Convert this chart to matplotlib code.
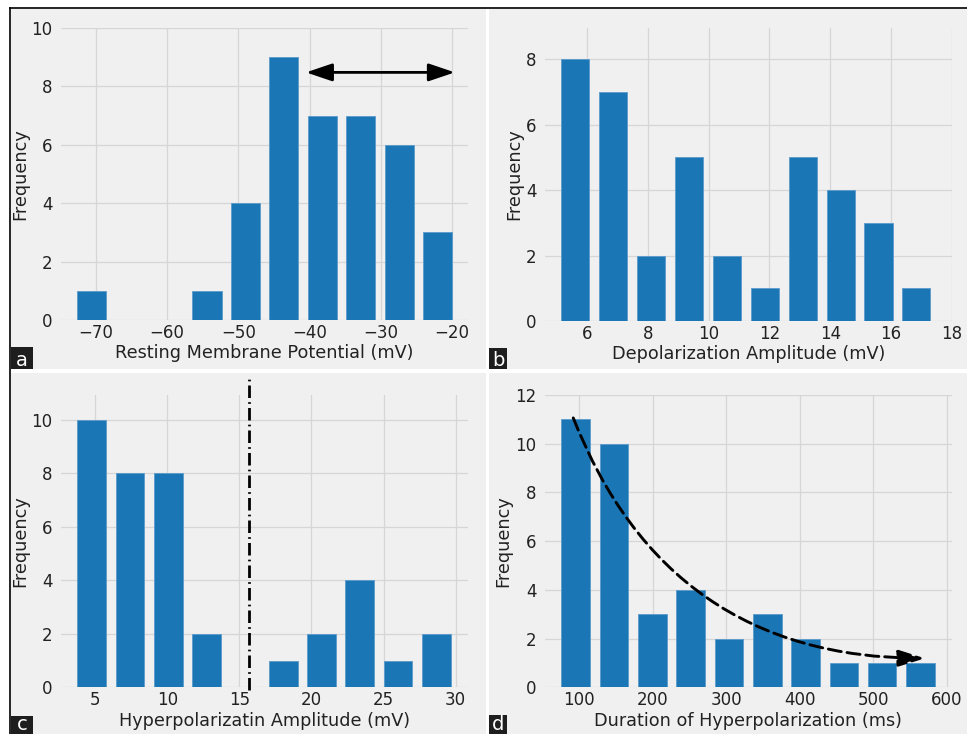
import matplotlib
matplotlib.use("Agg")
import matplotlib.pyplot as plt
from matplotlib.patches import Rectangle
from matplotlib.lines import Line2D

W, H = 967, 734

# ── data (histogram bins) ─────────────────────────────────────────────────────

rmp_bins   = [-70.6, -65.2, -59.8, -54.4, -49.0, -43.6, -38.2, -32.8, -27.4, -22.0]
rmp_counts = [1, 0, 0, 1, 4, 9, 7, 7, 6, 3]

dep_bins   = [5.61, 6.86, 8.10, 9.35, 10.60, 11.85, 13.09, 14.34, 15.59, 16.84]
dep_counts = [8, 7, 2, 5, 2, 1, 5, 4, 3, 1]

hyp_bins   = [4.77, 7.42, 10.08, 12.73, 15.39, 18.04, 20.70, 23.35, 26.00, 28.66]
hyp_counts = [10, 8, 8, 2, 0, 1, 2, 4, 1, 2]

dur_bins   = [95.6, 147.7, 199.8, 251.9, 304.0, 356.0, 408.1, 460.2, 512.3, 564.4]
dur_counts = [11, 10, 3, 4, 2, 3, 2, 1, 1, 1]

BG   = '#f0f0f0'
BAR  = '#1a76b4'
GRID = '#d6d6d6'
TXT  = '#222222'

plt.rcParams['font.family'] = 'DejaVu Sans'
plt.rcParams['font.size'] = 12

fig = plt.figure(figsize=(W / 100, H / 100), dpi=100)
fig.patch.set_facecolor('white')


def px(x0, y0, x1, y1):
    # pixel box (y down) -> figure fraction [left, bottom, width, height]
    return [x0 / W, 1 - y1 / H, (x1 - x0) / W, (y1 - y0) / H]


# ── panel backgrounds, frame and letters ─────────────────────────────────────

panels = [(11, 9, 486, 369), (489, 9, 967, 369),
          (11, 373, 486, 734), (489, 373, 967, 734)]
for x0, y0, x1, y1 in panels:
    l, b, w, h = px(x0, y0, x1, y1)
    fig.add_artist(Rectangle((l, b), w, h, transform=fig.transFigure,
                             facecolor=BG, edgecolor='none', zorder=-5))

fig.add_artist(Line2D([10 / W, 1], [1 - 8 / H, 1 - 8 / H], transform=fig.transFigure,
                      color='black', lw=1.2))
fig.add_artist(Line2D([10 / W, 10 / W], [0, 1 - 8 / H], transform=fig.transFigure,
                      color='black', lw=1.2))

letters = [('a', (11, 347, 33, 369)), ('b', (489, 348, 507, 369)),
           ('c', (11, 716, 33, 734)), ('d', (489, 715, 507, 734))]
for s, box in letters:
    l, b, w, h = px(*box)
    fig.add_artist(Rectangle((l, b), w, h, transform=fig.transFigure,
                             facecolor='#1e1e1e', edgecolor='none', zorder=5))
    fig.text(l + w / 2, b + 3.5 / H, s, color='white', fontsize=14,
             ha='center', va='baseline', zorder=6)


def style(ax, xlim, ylim, xticks, yticks, xlabel):
    ax.set_facecolor(BG)
    ax.set_xlim(*xlim)
    ax.set_ylim(*ylim)
    ax.set_xticks(xticks)
    ax.set_yticks(yticks)
    ax.grid(True, color=GRID, lw=0.9)
    ax.set_axisbelow(True)
    for sp in ax.spines.values():
        sp.set_visible(False)
    ax.tick_params(length=0, labelsize=12, colors=TXT)
    ax.tick_params(axis='x', pad=3)
    ax.tick_params(axis='y', pad=6)
    ax.set_xlabel(xlabel, fontsize=12.7, color=TXT, labelpad=1.5)
    ax.set_ylabel('Frequency', fontsize=12.7, color=TXT, labelpad=2)


# (a) resting membrane potential
ax1 = fig.add_axes(px(61, 28, 468, 320))
ax1.bar(rmp_bins, rmp_counts, width=4.08, color=BAR, edgecolor='#5b9bcb', lw=0.6)
style(ax1, (-74.9, -17.75), (0, 9.93), [-70, -60, -50, -40, -30, -20],
      [0, 2, 4, 6, 8, 10], 'Resting Membrane Potential (mV)')
ax1.annotate('', xy=(-19.6, 8.48), xytext=(-40.5, 8.48),
             arrowprops=dict(arrowstyle='<|-|>,head_length=0.8,head_width=0.27',
                             color='black', lw=2, shrinkA=0, shrinkB=0,
                             mutation_scale=20))

# (b) depolarization amplitude
ax2 = fig.add_axes(px(545, 28, 951.7, 321))
ax2.bar(dep_bins, dep_counts, width=0.924, color=BAR, edgecolor='#5b9bcb', lw=0.6)
style(ax2, (4.61, 17.87), (0, 8.96), [6, 8, 10, 12, 14, 16, 18],
      [0, 2, 4, 6, 8], 'Depolarization Amplitude (mV)')

# (c) hyperpolarization amplitude
ax3 = fig.add_axes(px(61, 395, 468.3, 687.3))
ax3.bar(hyp_bins, hyp_counts, width=1.99, color=BAR, edgecolor='#5b9bcb', lw=0.6)
style(ax3, (2.64, 30.87), (0, 10.93), [5, 10, 15, 20, 25, 30],
      [0, 2, 4, 6, 8, 10], 'Hyperpolarizatin Amplitude (mV)')
ax3.plot([15.69, 15.69], [-0.1, 11.62], color='black', lw=2,
         linestyle=(0, (4.5, 1.5, 0.6, 1.5)), clip_on=False)

# (d) duration of hyperpolarization
ax4 = fig.add_axes(px(545, 395, 951.7, 687.3))
ax4.bar(dur_bins, dur_counts, width=38.8, color=BAR, edgecolor='#5b9bcb', lw=0.6)
style(ax4, (53.8, 606.8), (0, 11.95), [100, 200, 300, 400, 500, 600],
      [0, 2, 4, 6, 8, 10, 12], 'Duration of Hyperpolarization (ms)')
ax4.annotate('', xy=(570.5, 1.19), xytext=(92.2, 11.06),
             arrowprops=dict(arrowstyle='-|>,head_length=0.8,head_width=0.25',
                             connectionstyle='arc3,rad=0.34', linestyle=(0, (4.5, 2)),
                             color='black', lw=2.1, shrinkA=0, shrinkB=0,
                             mutation_scale=20))

plt.savefig('out.png', dpi=100)
